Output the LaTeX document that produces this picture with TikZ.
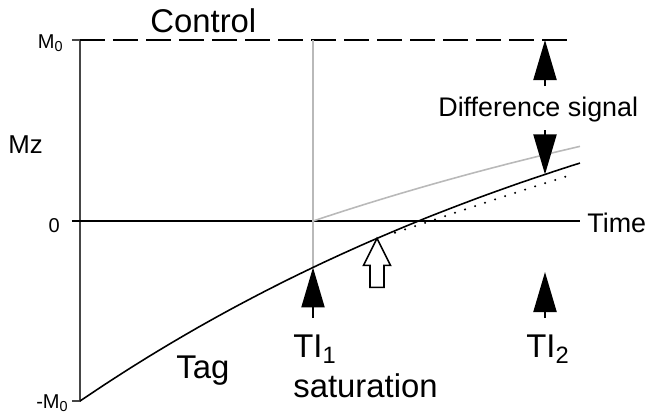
\documentclass[tikz,border=0pt]{standalone}
\usepackage{fontspec}
\setmainfont{Liberation Sans}
\usetikzlibrary{arrows.meta}
\definecolor{satgray}{RGB}{185,185,185}
\definecolor{axisgray}{RGB}{70,70,70}
\newcommand\lowsub[1]{\raisebox{-0.35ex}{\scalebox{0.72}{#1}}}
\begin{document}
\begin{tikzpicture}[
  big/.style={font=\fontsize{18.7}{22}\selectfont, inner sep=0, anchor=base west},
  mid/.style={font=\fontsize{15.3}{18}\selectfont, inner sep=0, anchor=base west},
  small/.style={font=\fontsize{11.4}{13}\selectfont, inner sep=0, anchor=base east},
  axis/.style={line width=1.1pt},
  curve/.style={line width=0.9pt},
  solidarrow/.style={line width=1.2pt, -{Triangle[length=0.8cm, width=0.46cm]}},
  declare function={tag(\x)=5.27-8.87*exp(-\x/13);}
]
  \useasboundingbox (-1.6,-3.88) rectangle (11.36,4.42);
  % axes
  \draw[axis, axisgray] (-0.16,3.62) -- (0,3.62) -- (0,-3.6) -- (-0.16,-3.6);
  \draw[axis] (-0.16,0) -- (10,0);
  \draw[curve, dash pattern=on 0.5cm off 0.16cm] (0,3.62) -- (9.84,3.62);
  % curves
  \coordinate (sat) at (4.66,{tag(4.66)});
  \draw[curve, satgray] (4.66,3.62) -- (sat);
  \draw[curve, satgray] plot[domain=4.66:10, samples=40] (\x,{4.82*(1-exp(-(\x-4.66)/14.4))});
  \draw[curve] plot[domain=0:10, samples=60] (\x,{tag(\x)});
  \draw[line width=1.3pt, line cap=round, dash pattern=on 0pt off 6pt]
    plot[domain=6.3:9.9, samples=40] (\x,{tag(\x)-0.2*(1-exp(-(\x-5.96)/1.6))});
  % arrows
  \coordinate (hollowtip) at (5.94,{tag(5.94)});
  \coordinate (difftop) at (9.3,3.62);
  \coordinate (diffbot) at (9.3,{tag(9.3)});
  \draw[solidarrow] (4.66,-1.94) -- (sat);
  \draw[solidarrow] (9.3,-1.94) -- (9.3,-1.02);
  \draw[solidarrow] (9.3,2.7) -- (difftop);
  \draw[solidarrow] (9.3,1.82) -- (diffbot);
  \draw[curve, fill=white] (hollowtip) -- ++(-0.27,-0.54) -- ++(0.13,0) -- ++(0,-0.44)
    -- ++(0.28,0) -- ++(0,0.44) -- ++(0.13,0) -- cycle;
  % labels
  \node[big] (control) at (1.4,3.78) {Control};
  \node[small] (mtop) at (-0.34,3.46) {M\lowsub{0}};
  \node[small] (zero) at (-0.4,-0.22) {0};
  \node[small] (mbot) at (-0.24,-3.74) {-M\lowsub{0}};
  \node[mid, font=\fontsize{14.7}{17}\selectfont] (mz) at (-1.44,1.36) {Mz};
  \node[mid] (time) at (10.14,-0.22) {Time};
  \node[mid] (diff) at (7.16,2.1) {Difference signal};
  \node[big] (tag) at (1.92,-3.14) {Tag};
  \node[big] (ti1) at (4.26,-2.72) {TI\lowsub{1}};
  \node[big] (satur) at (4.26,-3.52) {saturation};
  \node[big] (ti2) at (8.92,-2.72) {TI\lowsub{2}};
\end{tikzpicture}
\end{document}
